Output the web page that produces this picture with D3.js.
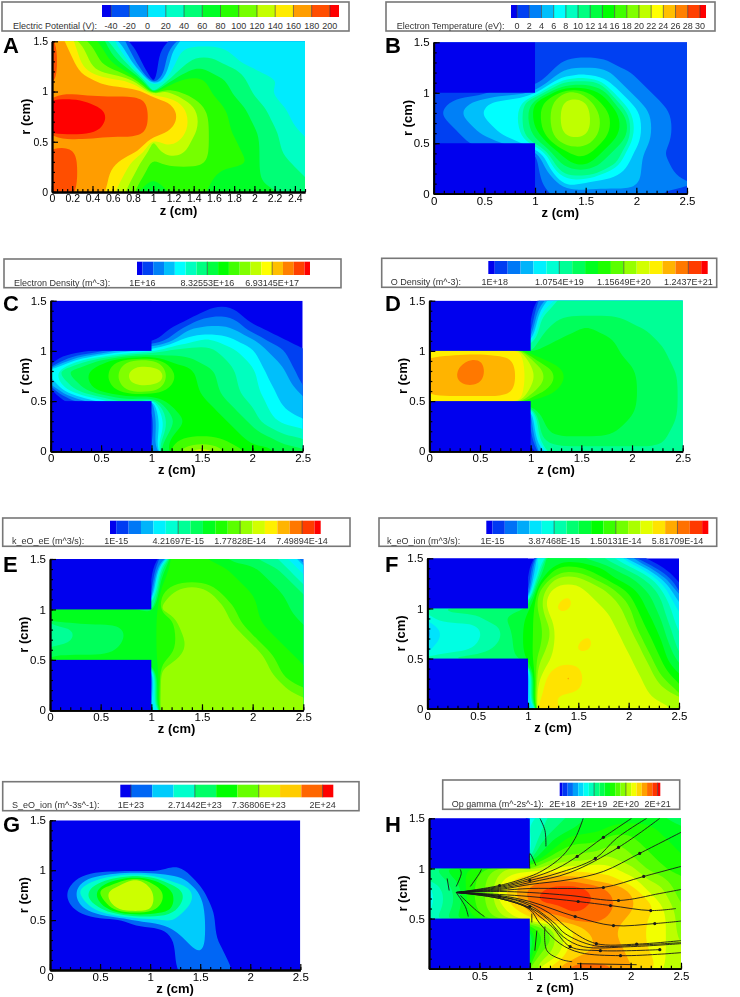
<!DOCTYPE html>
<html>
<head>
<meta charset="utf-8">
<script src="https://cdn.jsdelivr.net/npm/d3@7"></script>
<style>
body { margin: 0; background: #fff; }
svg { display: block; filter: blur(0.4px); font-family: "Liberation Sans", Arial, sans-serif; }
</style>
</head>
<body>
<svg id="fig" width="740" height="997"></svg>
<script>
// every grid: one row per r = 1.5 ... 0, one column per z = 0 ... 2.5 (0.1 cm steps)
// cell values are colour bar band numbers
var potential = [
[12,11,10,8,7,6,4,2,0,0,0,0,1,3,3,3,3,3,3,3,3,3,3,3,3,3],
[12,11,10,9,8,7,5,3,1,0,0,1,3,4,4,4,4,4,3,3,3,3,3,3,3,3],
[12,11,11,9,8,7,6,5,2,0,0,1,3,4,5,5,5,4,4,3,3,3,3,3,3,3],
[12,11,11,10,9,8,8,7,5,1,0,1,4,5,6,6,5,5,5,4,4,3,3,3,3,3],
[12,11,11,11,11,10,10,10,9,6,0,3,6,7,7,7,6,6,5,5,4,4,4,3,3,3],
[11,11,11,11,11,11,11,11,11,11,4,9,8,7,7,7,6,6,5,5,4,4,3,3,3,3],
[13,13,13,13,12,12,12,12,12,12,11,11,10,9,8,7,7,6,6,5,5,4,4,3,3,3],
[13,13,13,13,13,13,12,12,12,12,11,11,11,10,9,8,7,7,6,6,5,5,4,4,3,3],
[13,13,13,13,13,13,12,12,12,12,11,11,11,10,9,8,7,7,6,6,5,5,4,4,3,3],
[13,13,13,13,13,12,12,12,12,12,11,11,10,10,9,8,7,7,6,6,6,5,5,4,4,3],
[11,11,11,11,11,11,11,11,11,11,8,10,10,9,8,8,7,7,7,6,6,5,5,4,4,4],
[12,12,12,11,11,11,11,11,11,10,8,9,9,9,8,8,7,7,7,6,6,5,5,4,4,4],
[12,12,12,11,11,11,11,10,9,8,7,8,8,8,8,8,7,7,7,7,6,5,5,5,4,4],
[12,12,12,11,11,11,10,10,9,8,7,7,7,7,7,7,7,6,6,6,6,5,5,5,5,4],
[12,12,12,11,11,11,10,9,8,7,6,7,7,7,7,7,6,6,6,6,6,5,5,5,5,5],
[12,12,12,11,11,11,10,9,8,6,3,6,7,7,7,7,6,6,6,6,6,6,6,5,5,5]
];
var temperature = [
[1,1,1,1,1,1,1,1,1,1,1,1,1,1,1,1,1,1,1,1,1,1,1,1,1,1],
[1,1,1,1,1,1,1,1,1,1,1,1,1,1,1,1,1,1,1,1,1,1,1,1,1,1],
[1,1,1,1,1,1,1,1,1,1,1,1,1,2,2,2,2,2,1,1,1,1,1,1,1,1],
[1,1,1,1,1,1,1,1,1,1,1,1,2,3,3,3,3,3,2,2,1,1,1,1,1,1],
[1,1,1,1,1,1,1,1,1,1,1,2,4,6,6,6,6,4,3,2,2,1,1,1,1,1],
[1,1,1,1,1,1,2,2,2,2,3,6,8,10,10,9,8,7,4,3,2,2,1,1,1,1],
[1,1,2,2,3,3,4,4,4,6,8,9,10,11,11,11,9,8,6,4,3,2,2,1,1,1],
[1,2,2,3,3,4,4,4,4,6,8,9,10,11,11,11,10,9,8,6,4,3,2,2,1,1],
[1,1,2,2,3,3,4,4,4,6,8,9,10,11,11,11,10,9,8,7,4,3,2,2,1,1],
[1,1,1,2,2,3,3,4,4,6,7,9,10,11,11,11,10,9,8,7,4,3,2,2,1,1],
[1,1,1,1,2,2,2,3,3,4,6,7,9,10,10,10,9,8,7,6,4,3,2,2,1,1],
[1,1,1,1,1,1,1,1,1,1,1,4,7,8,9,9,8,7,6,4,3,2,2,1,1,1],
[1,1,1,1,1,1,1,1,1,1,1,3,6,7,8,8,7,6,6,4,3,2,2,2,1,1],
[1,1,1,1,1,1,1,1,1,1,1,2,4,6,6,6,6,4,4,3,3,2,2,2,1,1],
[1,1,1,1,1,1,1,1,1,1,1,2,2,4,4,3,3,3,3,3,3,2,2,2,2,2],
[1,1,1,1,1,1,1,1,1,1,1,1,2,2,2,2,2,2,2,2,2,2,2,1,1,1]
];
var density = [
[0,0,0,0,0,0,0,0,0,0,0,0,0,0,0,0,0,0,0,0,0,0,0,0,0,0],
[0,0,0,0,0,0,0,0,0,0,0,0,0,0,0,0,1,1,1,0,0,0,0,0,0,0],
[0,0,0,0,0,0,0,0,0,0,0,0,0,0,1,2,2,2,2,1,0,0,0,0,0,0],
[0,0,0,0,0,0,0,0,0,0,0,0,1,2,3,3,3,3,3,2,1,1,0,0,0,0],
[0,0,0,0,0,0,0,0,0,0,0,1,2,4,4,5,5,4,4,3,3,2,1,1,0,0],
[0,0,0,0,0,1,2,3,3,4,4,5,6,6,6,6,6,5,5,4,4,3,2,2,1,1],
[0,1,3,5,6,7,8,9,10,10,10,9,7,7,7,6,6,6,5,5,4,3,3,2,1,1],
[4,6,7,7,8,8,9,10,11,11,11,11,9,8,8,7,7,6,6,5,5,4,3,3,2,1],
[3,5,6,7,8,8,9,10,11,11,11,11,9,8,8,7,7,6,6,5,5,4,3,3,2,1],
[0,3,5,6,7,8,8,9,10,10,10,9,8,8,8,7,7,6,6,5,5,4,4,3,3,2],
[0,0,1,2,3,4,5,6,6,6,2,7,8,8,8,8,7,7,6,6,5,5,4,3,3,3],
[0,0,0,0,0,0,0,0,0,0,1,5,7,8,8,8,8,7,7,6,6,5,4,4,3,3],
[0,0,0,0,0,0,0,0,0,0,1,4,6,7,8,8,8,8,7,7,6,5,5,4,4,4],
[0,0,0,0,0,0,0,0,0,0,1,4,7,8,8,8,8,8,8,7,7,6,6,5,5,5],
[0,0,0,0,0,0,0,0,0,0,1,6,8,9,9,9,9,9,8,8,7,7,7,6,6,6],
[0,0,0,0,0,0,0,0,0,0,2,7,9,10,11,11,11,10,9,9,8,8,8,7,7,7]
];
var oDensity = [
[0,0,0,0,0,0,0,0,0,0,0,2,4,6,6,6,6,6,6,6,6,6,6,6,6,6],
[0,0,0,0,0,0,0,0,0,0,0,4,6,6,6,6,6,6,6,6,6,6,6,6,6,6],
[0,0,0,0,0,0,0,0,0,0,0,6,6,7,7,7,7,7,7,7,6,6,6,6,6,6],
[0,0,0,0,0,0,0,0,0,0,1,6,7,7,7,8,8,7,7,7,7,7,6,6,6,6],
[0,0,0,0,0,0,0,0,0,0,3,7,7,8,8,8,8,8,8,7,7,7,7,6,6,6],
[13,13,13,13,13,13,13,13,13,13,6,8,8,8,8,8,8,8,8,7,7,7,7,7,6,6],
[14,14,14,14,15,15,14,14,14,13,11,9,8,8,8,8,8,8,8,8,7,7,7,7,6,6],
[15,14,14,15,15,15,14,14,14,13,12,11,10,9,8,8,8,8,8,8,8,7,7,7,7,6],
[14,14,14,15,15,15,14,14,14,13,12,11,10,9,8,8,8,8,8,8,8,7,7,7,7,6],
[14,14,14,14,14,14,14,14,14,13,11,10,9,8,8,8,8,8,8,8,8,7,7,7,7,6],
[13,13,13,13,13,13,13,13,13,13,8,8,8,8,8,8,8,8,8,8,8,7,7,7,7,6],
[0,0,0,0,0,0,0,0,0,0,2,8,8,8,8,8,8,8,8,8,8,7,7,7,7,6],
[0,0,0,0,0,0,0,0,0,0,2,7,8,8,8,8,8,8,8,8,7,7,7,7,7,6],
[0,0,0,0,0,0,0,0,0,0,1,7,8,8,8,8,8,8,8,7,7,7,7,7,6,6],
[0,0,0,0,0,0,0,0,0,0,1,6,7,7,7,7,7,7,7,7,7,7,7,7,6,6],
[0,0,0,0,0,0,0,0,0,0,0,3,6,6,6,6,6,6,6,6,6,6,6,6,6,6]
];
var kEnergy = [
[0,0,0,0,0,0,0,0,0,0,0,2,9,9,9,9,8,8,7,7,7,6,6,5,4,2],
[0,0,0,0,0,0,0,0,0,0,0,6,9,9,9,9,9,9,8,8,8,7,7,6,5,4],
[0,0,0,0,0,0,0,0,0,0,0,8,9,9,9,9,9,9,9,8,8,8,7,7,6,5],
[0,0,0,0,0,0,0,0,0,0,1,9,10,11,11,11,10,9,9,9,8,8,8,7,7,6],
[0,0,0,0,0,0,0,0,0,0,2,10,11,11,11,11,11,10,9,9,9,8,8,8,7,7],
[8,8,8,8,8,8,8,8,8,8,6,11,11,11,11,11,11,11,10,9,9,8,8,8,7,7],
[8,8,8,8,8,8,8,8,8,8,8,9,9,11,11,11,11,11,10,9,9,8,8,8,8,7],
[6,6,6,7,7,7,7,7,8,8,8,9,9,11,11,11,11,11,11,10,9,9,8,8,8,8],
[6,6,6,7,7,7,7,7,8,8,8,9,9,10,11,11,11,11,11,11,10,9,9,8,8,8],
[7,7,7,7,7,7,7,8,8,8,8,9,9,10,11,11,11,11,11,11,11,10,9,9,8,8],
[8,8,8,8,8,8,8,8,8,8,8,9,10,11,11,11,11,11,11,11,11,11,10,9,9,8],
[0,0,0,0,0,0,0,0,0,0,2,11,11,11,11,11,11,11,11,11,11,11,10,9,9,9],
[0,0,0,0,0,0,0,0,0,0,2,11,11,11,11,11,11,11,11,11,11,11,11,10,9,9],
[0,0,0,0,0,0,0,0,0,0,2,11,11,11,11,11,11,11,11,11,11,11,11,11,10,10],
[0,0,0,0,0,0,0,0,0,0,3,11,11,11,11,11,11,11,11,11,11,11,11,11,11,11],
[0,0,0,0,0,0,0,0,0,0,4,12,11,11,11,11,11,11,11,11,11,11,11,11,11,11]
];
var kIon = [
[0,0,0,0,0,0,0,0,0,0,0,5,9,8,8,8,7,7,6,5,3,1,0,0,0,0],
[0,0,0,0,0,0,0,0,0,0,0,4,8,10,10,10,9,9,8,7,6,5,3,1,0,0],
[0,0,0,0,0,0,0,0,0,0,0,7,10,12,12,12,11,10,9,8,8,7,6,4,2,0],
[0,0,0,0,0,0,0,0,0,0,1,10,12,13,13,13,12,12,11,10,9,8,7,6,4,1],
[0,0,0,0,0,0,0,0,0,0,2,11,13,13,14,13,13,12,12,11,10,9,8,7,5,3],
[6,6,7,7,7,7,7,7,7,7,8,11,13,14,14,13,13,13,12,12,11,9,8,7,6,4],
[5,6,6,6,6,6,7,7,8,8,9,10,12,13,13,13,13,13,13,12,11,10,9,8,6,5],
[3,4,5,5,5,5,6,6,7,8,9,10,11,13,13,13,13,13,13,12,12,10,9,8,7,5],
[3,4,5,5,5,5,6,6,7,8,9,10,11,13,13,13,14,13,13,13,12,11,10,9,7,6],
[4,5,5,5,5,6,6,7,7,8,9,10,12,13,13,14,14,13,13,13,12,12,10,9,8,6],
[6,6,6,7,7,7,7,7,7,8,9,11,12,13,13,13,13,13,13,13,13,12,11,10,8,7],
[0,0,0,0,0,0,0,0,0,0,2,12,13,14,14,14,13,13,13,13,13,12,12,10,9,8],
[0,0,0,0,0,0,0,0,0,0,3,12,14,14,15,14,13,13,13,13,13,13,12,11,10,9],
[0,0,0,0,0,0,0,0,0,0,3,13,14,14,14,14,13,13,13,13,13,13,12,12,11,10],
[0,0,0,0,0,0,0,0,0,0,3,13,14,13,13,13,13,13,13,13,13,13,13,12,12,12],
[0,0,0,0,0,0,0,0,0,0,4,14,14,14,13,13,13,13,13,13,13,13,13,13,13,12]
];
var ionSource = [
[0,0,0,0,0,0,0,0,0,0,0,0,0,0,0,0,0,0,0,0,0,0,0,0,0,0],
[0,0,0,0,0,0,0,0,0,0,0,0,0,0,0,0,0,0,0,0,0,0,0,0,0,0],
[0,0,0,0,0,0,0,0,0,0,0,0,0,0,0,0,0,0,0,0,0,0,0,0,0,0],
[0,0,0,0,0,0,0,0,0,0,0,0,0,0,0,0,0,0,0,0,0,0,0,0,0,0],
[0,0,0,0,0,0,0,0,0,0,0,0,0,0,0,0,0,0,0,0,0,0,0,0,0,0],
[0,0,0,0,0,0,0,0,0,0,0,0,1,1,0,0,0,0,0,0,0,0,0,0,0,0],
[0,0,0,1,2,3,4,5,7,7,5,4,2,2,1,0,0,0,0,0,0,0,0,0,0,0],
[0,0,1,3,4,6,7,7,7,7,7,6,5,4,3,1,0,0,0,0,0,0,0,0,0,0],
[0,0,1,2,4,5,7,7,7,7,7,6,5,4,3,2,0,0,0,0,0,0,0,0,0,0],
[0,0,0,1,2,3,5,7,7,7,7,5,5,3,2,2,1,0,0,0,0,0,0,0,0,0],
[0,0,0,0,0,0,0,0,1,2,2,2,3,2,2,2,1,0,0,0,0,0,0,0,0,0],
[0,0,0,0,0,0,0,0,0,0,0,0,1,2,2,2,1,0,0,0,0,0,0,0,0,0],
[0,0,0,0,0,0,0,0,0,0,0,0,0,1,2,2,1,0,0,0,0,0,0,0,0,0],
[0,0,0,0,0,0,0,0,0,0,0,0,0,1,1,2,1,1,0,0,0,0,0,0,0,0],
[0,0,0,0,0,0,0,0,0,0,0,0,0,1,1,1,1,1,0,0,0,0,0,0,0,0],
[0,0,0,0,0,0,0,0,0,0,0,0,0,1,2,1,1,1,1,0,0,0,0,0,0,0]
];
var ionFlux = [
[0,0,0,0,0,0,0,0,0,0,5,6,7,7,8,8,9,9,9,9,9,9,9,9,8,8],
[0,0,0,0,0,0,0,0,0,0,6,6,7,8,8,9,9,9,10,10,10,10,10,9,9,9],
[0,0,0,0,0,0,0,0,0,0,5,7,8,9,10,10,10,10,11,11,11,10,10,10,9,9],
[0,0,0,0,0,0,0,0,0,0,5,8,9,10,11,11,11,11,12,12,11,11,10,10,10,9],
[0,0,0,0,0,0,0,0,0,0,6,9,11,12,12,12,12,13,13,12,12,11,11,10,10,10],
[7,8,9,9,10,10,11,12,13,13,11,13,13,14,14,14,14,14,14,13,13,12,11,11,10,10],
[7,7,8,9,10,11,12,13,14,15,16,16,16,16,16,16,15,15,15,14,14,13,12,12,11,11],
[5,6,7,8,10,11,12,14,15,16,17,17,18,18,18,18,17,17,16,16,15,14,13,13,12,11],
[5,6,7,8,10,11,12,14,15,16,17,18,18,18,18,18,18,17,17,16,16,15,14,13,12,11],
[5,6,7,8,10,11,12,13,14,15,16,17,17,17,18,18,17,17,17,16,16,15,15,14,13,12],
[6,7,8,9,9,10,11,12,13,14,14,16,16,16,17,17,17,17,16,16,15,15,14,14,13,12],
[0,0,0,0,0,0,0,0,0,0,9,11,12,13,14,15,16,16,16,15,15,15,14,14,13,12],
[0,0,0,0,0,0,0,0,0,0,7,10,11,13,14,15,15,16,16,15,15,15,14,14,13,12],
[0,0,0,0,0,0,0,0,0,0,8,11,12,13,15,15,15,16,16,16,15,15,14,14,13,13],
[0,0,0,0,0,0,0,0,0,0,9,12,13,14,15,16,16,16,16,16,15,15,15,14,13,13],
[0,0,0,0,0,0,0,0,0,0,12,14,15,16,17,18,17,17,17,16,16,15,15,14,13,13]
];

// streamlines of panel H as [z, r] points
var streamlines = [
[[.27,.76],[.7,.83],[1,.92],[1.13,.98],[1.32,1.12],[1.45,1.3],[1.53,1.5]],
[[.27,.76],[.7,.82],[1,.9],[1.27,1],[1.47,1.12],[1.73,1.31],[2.01,1.5]],
[[.27,.76],[.7,.81],[1,.88],[1.27,.95],[1.65,1.1],[1.86,1.3],[2.16,1.5]],
[[.27,.76],[.7,.8],[1,.86],[1.4,.96],[1.88,1.21],[2.29,1.5]],
[[.27,.76],[.7,.79],[1,.84],[1.4,.89],[1.73,.97],[2.09,1.15],[2.5,1.36]],
[[.27,.76],[.7,.78],[1,.8],[1.37,.8],[1.73,.81],[2.13,.92],[2.5,1.02]],
[[.27,.76],[.7,.77],[1,.76],[1.4,.73],[1.88,.68],[2.29,.75],[2.5,.79]],
[[.27,.76],[.7,.74],[1,.72],[1.48,.67],[1.8,.63],[2.2,.58],[2.45,.6]],
[[.27,.76],[.7,.73],[1,.67],[1.45,.52],[1.83,.43],[2.24,.45],[2.5,.475]],
[[.27,.76],[.7,.72],[1,.65],[1.2,.55],[1.4,.385],[1.66,.25],[2.06,.245],[2.5,.28]],
[[.27,.76],[.7,.72],[1,.63],[1.25,.45],[1.35,.35],[1.64,.23],[2.06,.235],[2.5,.26]],
[[.27,.76],[.7,.71],[1,.61],[1.17,.5],[1.33,.32],[1.53,.22],[2,.22],[2.5,.25]],
[[.27,.76],[.7,.7],[1,.6],[1.1,.52],[1.22,.42],[1.4,.22],[1.7,.18],[2.29,.19]],
[[.27,.76],[.7,.7],[1,.59],[1.1,.45],[1.3,.25],[1.5,.16],[1.9,.13],[2.31,.146],[2.5,.16]],
[[1.47,.05],[2.06,.04]],
[[.2,.78],[.18,.9]],
[[.27,.82],[.32,.95],[.31,.99]],
[[.41,.82],[.5,.95],[.52,.99]],
[[.27,.76],[.36,.62],[.39,.52]],
[[.31,.73],[.47,.58],[.55,.52]],
[[1,1],[1,1.15],[1.06,1.03]],
[[1.1,1.5],[1.15,1.38],[1.16,1.22]],
[[1.07,.38],[1.05,.18]],
[[1.15,.42],[1.17,.18],[1.32,.09],[1.42,.07]],
[[1.02,.55],[1.02,.46]]
];
var arrowPoints = [[1.47,1.12],[1.73,1.31],[1.65,1.1],[1.88,1.21],[2.09,1.15],[2.13,.92],[1.73,.81],[1.88,.68],[1.48,.67],[1.8,.63],[2.2,.58],[1.45,.52],[1.83,.43],[2.24,.45],[1.66,.25],[2.06,.245],[1.4,.22],[1.7,.18],[1.9,.13],[2.29,.19],[.7,.83],[.7,.72],[1,.88],[1,.62]];

var potentialLabels = ["-40","-20","0","20","40","60","80","100","120","140","160","180","200"];
var temperatureLabels = ["0","2","4","6","8","10","12","14","16","18","20","22","24","26","28","30"];
var zTicksFine = [0,.2,.4,.6,.8,1,1.2,1.4,1.6,1.8,2,2.2,2.4];
var zTicks = [0,.5,1,1.5,2,2.5];
var rTicks = [0,.5,1,1.5];

function everyBand(n) { return d3.range(n - 1).map(function(i){return i + .5}) }

var panels = [
{letter:"A", lx:3, ly:53, grid:potential, n:14, wall:false, title:"Electric Potential (V):", tx:13, ty:29, labels:potentialLabels, at:everyBand(14), seps:everyBand(14),
 box:[2,2,349,31], bar:[102,5,339,17], plot:[52,41.3,305,192], zt:zTicksFine, zm:.05, fs:10.5},
{letter:"B", lx:385, ly:53, grid:temperature, n:17, wall:true, title:"Electron Temperature (eV):", tx:396.7, ty:29, labels:temperatureLabels, at:everyBand(17), seps:everyBand(17),
 box:[386,2,715,31], bar:[511,5,706,18], plot:[433.7,42.3,687,193.7], zt:zTicks, zm:.1, fs:11.5},
{letter:"C", lx:3, ly:311, grid:density, n:17, wall:true, title:"Electron Density (m^-3):", tx:14, ty:285.5, labels:["1E+16","8.32553E+16","6.93145E+17"], at:[.5,6.5,12.5], seps:[6.5,12.5],
 box:[4,259,341,287.7], bar:[137,261.7,310,275], plot:[50.7,300.7,302.7,451.3], zt:zTicks, zm:.1, fs:11.5},
{letter:"D", lx:385, ly:311, grid:oDensity, n:18, wall:true, title:"O Density (m^-3):", tx:390.7, ty:285, labels:["1E+18","1.0754E+19","1.15649E+20","1.2437E+21"], at:[.5,5.5,10.5,15.5], seps:[5.5,10.5,15.5],
 box:[381.7,258.3,716.7,287.3], bar:[488.3,261,707.7,274], plot:[429.3,300.7,682.7,451.3], zt:zTicks, zm:.1, fs:11.5},
{letter:"E", lx:3, ly:571.7, grid:kEnergy, n:18, wall:true, title:"k_eO_eE (m^3/s):", tx:12, ty:544.3, labels:["1E-15","4.21697E-15","1.77828E-14","7.49894E-14"], at:[.5,5.5,10.5,15.5], seps:[5.5,10.5,15.5],
 box:[2.7,518,350,546.3], bar:[110,520.7,320.7,534], plot:[50,559,303.3,710.3], zt:zTicks, zm:.1, fs:11.5},
{letter:"F", lx:385, ly:571.7, grid:kIon, n:19, wall:true, title:"k_eO_ion (m^3/s):", tx:387, ty:544.3, labels:["1E-15","3.87468E-15","1.50131E-14","5.81709E-14"], at:[.5,5.5,10.5,15.5], seps:[5.5,10.5,15.5],
 box:[379,518,716.7,546.3], bar:[486.3,520.7,708.3,534], plot:[427.3,558.3,679,708.7], zt:zTicks, zm:.1, fs:11.5},
{letter:"G", lx:3, ly:832, grid:ionSource, n:11, wall:false, title:"S_eO_ion (m^-3s^-1):", tx:12, ty:808.3, labels:["1E+23","2.71442E+23","7.36806E+23","2E+24"], at:[.5,3.5,6.5,9.5], seps:[.5,3.5,6.5,9.5],
 box:[2.7,781.7,359,810.7], bar:[120.3,784.7,333.3,797.3], plot:[50,820.3,300.3,970], zt:zTicks, zm:.1, fs:11.5},
{letter:"H", lx:385, ly:832, grid:ionFlux, n:20, wall:true, title:"Op gamma (m^-2s^-1):", tx:451.7, ty:807, labels:["2E+18","2E+19","2E+20","2E+21"], at:[.5,6.5,12.5,18.5], seps:[6.5,12.5,18.5],
 box:[442.7,780,679.7,809.3], bar:[559.7,782.7,660.3,796], plot:[429,818.3,681,968.7], zt:[.5,1,1.5,2,2.5], rt:[.5,1,1.5], zm:.1, fs:11.5, flow:true}
];

var rainbow = d3.scaleLinear().domain([0,.25,.5,.75,1]).range(["#0000ee","#00ffff","#00ff00","#ffff00","#ff0000"]);

// rounds the marching squares staircase off, points on the grid edge stay put
function softenRing(ring, cols, rows) {
	var pts = ring.slice(0, -1);
	for (var pass = 0; pass < 2; pass++) {
		pts = pts.map(function(q, i){
			if (q[0] <= 0 || q[0] >= cols || q[1] <= 0 || q[1] >= rows) return q;
			var a = pts[(i + pts.length - 1) % pts.length], b = pts[(i + 1) % pts.length];
			return [(a[0] + 2 * q[0] + b[0]) / 4, (a[1] + 2 * q[1] + b[1]) / 4];
		});
	}
	return pts;
}

var svg = d3.select("#fig");

panels.forEach(function(p, k){
	var bandColor = function(i){return rainbow(i / (p.n - 1))};
	var g = svg.append("g").attr("class", "panel");

	//legend box and colour bar
	g.append("rect").attr("x", p.box[0]).attr("y", p.box[1])
		.attr("width", p.box[2] - p.box[0]).attr("height", p.box[3] - p.box[1])
		.style("fill", "#fff").style("stroke", "#777").style("stroke-width", 1.6);

	var barX = d3.scaleLinear().domain([0, p.n - 1]).range([p.bar[0], p.bar[2]]);
	g.selectAll("rect.band").data(d3.range(p.n)).enter().append("rect")
		.attr("class", "band")
		.attr("x", function(i){return barX(Math.max(i - .5, 0))})
		.attr("y", p.bar[1])
		.attr("width", function(i){return barX(Math.min(i + .5, p.n - 1)) - barX(Math.max(i - .5, 0))})
		.attr("height", p.bar[3] - p.bar[1])
		.style("fill", bandColor);
	g.selectAll("line.sep").data(p.seps).enter().append("line")
		.attr("class", "sep")
		.attr("x1", barX).attr("x2", barX).attr("y1", p.bar[1]).attr("y2", p.bar[3])
		.style("stroke", "#333").style("stroke-width", .6);

	g.append("text").attr("x", p.tx).attr("y", p.ty).text(p.title)
		.style("font-size", "9px").style("fill", "#333");
	g.selectAll("text.lab").data(p.labels).enter().append("text")
		.attr("class", "lab")
		.attr("x", function(d, i){return barX(p.at[i])})
		.attr("y", p.ty)
		.attr("text-anchor", "middle")
		.text(function(d){return d})
		.style("font-size", "9px").style("fill", "#333");

	//field
	var x = d3.scaleLinear().domain([0, 2.5]).range([p.plot[0], p.plot[2]]);
	var y = d3.scaleLinear().domain([0, 1.5]).range([p.plot[3], p.plot[1]]);
	var clipId = "clip" + k;
	g.append("clipPath").attr("id", clipId).append("rect")
		.attr("x", p.plot[0]).attr("y", p.plot[1])
		.attr("width", p.plot[2] - p.plot[0]).attr("height", p.plot[3] - p.plot[1]);

	var field = g.append("g").attr("clip-path", "url(#" + clipId + ")");
	field.append("rect").attr("x", p.plot[0]).attr("y", p.plot[1])
		.attr("width", p.plot[2] - p.plot[0]).attr("height", p.plot[3] - p.plot[1])
		.style("fill", bandColor(0));

	var rows = p.grid.length, cols = p.grid[0].length;
	var contours = d3.contours().size([cols, rows])
		.thresholds(d3.range(1, p.n).map(function(i){return i - .5}))(d3.merge(p.grid));
	var ringLine = d3.line()
		.x(function(d){return x((d[0] - .5) * .1)})
		.y(function(d){return y(1.5 - (d[1] - .5) * .1)})
		.curve(d3.curveBasisClosed);
	field.selectAll("path.level").data(contours).enter().append("path")
		.attr("class", "level")
		.attr("d", function(c){
			var d = "";
			c.coordinates.forEach(function(poly){
				poly.forEach(function(ring){ d += ringLine(softenRing(ring, cols, rows)) });
			});
			return d;
		})
		.style("fill", function(d, i){return bandColor(i + 1)});

	//the solid wall above and below the channel
	if (p.wall) {
		[[1, 1.5], [0, .5]].forEach(function(w){
			field.append("rect").attr("x", x(0)).attr("y", y(w[1]))
				.attr("width", x(1) - x(0)).attr("height", y(w[0]) - y(w[1]))
				.style("fill", bandColor(0));
		});
	}

	if (p.flow) {
		var line = d3.line().x(function(d){return x(d[0])}).y(function(d){return y(d[1])}).curve(d3.curveCatmullRom);
		field.selectAll("path.stream").data(streamlines).enter().append("path")
			.attr("class", "stream").attr("d", line)
			.style("fill", "none").style("stroke", "#1a1a1a").style("stroke-width", .9);
		field.selectAll("circle.arrow").data(arrowPoints).enter().append("circle")
			.attr("class", "arrow").attr("r", 1.6)
			.attr("cx", function(d){return x(d[0])}).attr("cy", function(d){return y(d[1])})
			.style("fill", "#1a1a1a");
	}

	//axes, ticks point into the plot
	var zMinor = d3.range(0, 2.5001, p.zm), rMinor = d3.range(0, 1.5001, .1);
	var axisStyle = function(a){
		a.selectAll("path").style("stroke", "#000").style("stroke-width", 1.8);
		a.selectAll("line").style("stroke", "#000").style("stroke-width", 1.2);
		a.selectAll("text").style("font-size", p.fs + "px").style("fill", "#000");
	};
	var noLabel = function(){return ""};
	g.append("g").attr("transform", "translate(0," + p.plot[3] + ")")
		.call(d3.axisBottom(x).tickValues(zMinor).tickSizeInner(-3).tickSizeOuter(0).tickFormat(noLabel)).call(axisStyle);
	g.append("g").attr("transform", "translate(0," + p.plot[3] + ")")
		.call(d3.axisBottom(x).tickValues(p.zt).tickSizeInner(-6).tickSizeOuter(0).tickPadding(3).tickFormat(String)).call(axisStyle);
	g.append("g").attr("transform", "translate(" + p.plot[0] + ",0)")
		.call(d3.axisLeft(y).tickValues(rMinor).tickSizeInner(-3).tickSizeOuter(0).tickFormat(noLabel)).call(axisStyle);
	g.append("g").attr("transform", "translate(" + p.plot[0] + ",0)")
		.call(d3.axisLeft(y).tickValues(p.rt || rTicks).tickSizeInner(-6).tickSizeOuter(0).tickPadding(4).tickFormat(String)).call(axisStyle);

	g.append("text").attr("x", (p.plot[0] + p.plot[2]) / 2).attr("y", p.plot[3] + 23)
		.attr("text-anchor", "middle").text("z (cm)")
		.style("font-size", "13px").style("font-weight", "bold");
	g.append("text")
		.attr("transform", "translate(" + (p.plot[0] - 22) + "," + (p.plot[1] + p.plot[3]) / 2 + ") rotate(-90)")
		.attr("text-anchor", "middle").text("r (cm)")
		.style("font-size", "13px").style("font-weight", "bold");

	g.append("text").attr("x", p.lx).attr("y", p.ly).text(p.letter)
		.style("font-size", "22px").style("font-weight", "bold");
});
</script>
</body>
</html>
